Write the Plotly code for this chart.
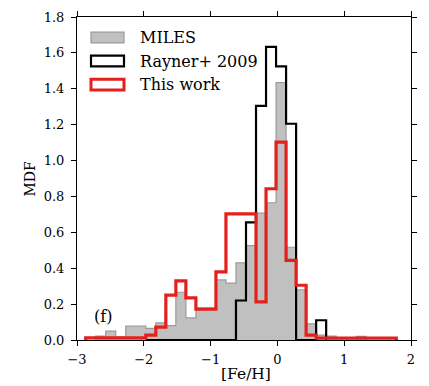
import plotly.graph_objects as go

# bin layout (shared histogram grid)
bin_width = 0.15

# MILES (grey filled histogram), bins starting at -2.72
miles_start = -2.72
miles_vals = [0.022, 0.049, 0.016, 0.078, 0.078, 0.065, 0.095, 0.080, 0.266, 0.123,
              0.178, 0.178, 0.335, 0.317, 0.43, 0.526, 0.707, 0.765, 1.435, 0.517,
              0.28, 0.09, 0.027, 0.022, 0.0, 0.0, 0.02]

# Rayner+ 2009 (black step), bins starting at -1.97
rayner_start = -1.97
rayner_vals = [0, 0, 0, 0, 0, 0, 0, 0, 0,
               0.22, 0.656, 1.305, 1.633, 1.525, 1.205, 0.0, 0.0, 0.11]

# This work (red step), bins starting at -2.87
thiswork_start = -2.87
thiswork_vals = [0.012, 0.012, 0.012, 0.012, 0.012, 0.012,
                 0.027, 0.072, 0.25, 0.33, 0.235, 0.172, 0.172, 0.38, 0.703, 0.703,
                 0.703, 0.212, 0.843, 1.103, 0.444, 0.305, 0.027,
                 0.01, 0.01, 0.01, 0.01, 0.01, 0.01, 0.01, 0.01]

x_ticks = [-3, -2, -1, 0, 1, 2]
y_ticks = [0.0, 0.2, 0.4, 0.6, 0.8, 1.0, 1.2, 1.4, 1.6, 1.8]
legend_labels = ["MILES", "Rayner+ 2009", "This work"]

GREY_FILL = "#c0c0c0"
GREY_EDGE = "#9a9a9a"
RED = "#e3201b"
FONT = "DejaVu Serif"


def step_xy(start, vals):
    edges = [round(start + bin_width * i, 4) for i in range(len(vals) + 1)]
    xs = [edges[0]] + edges
    ys = [0] + list(vals) + [0]
    return xs, ys


fig = go.Figure()

mx, my = step_xy(miles_start, miles_vals)
fig.add_trace(go.Scatter(x=mx, y=my, mode="lines", line=dict(shape="hv", color=GREY_EDGE, width=1.2),
                         fill="tozeroy", fillcolor=GREY_FILL, showlegend=False, hoverinfo="skip"))
rx, ry = step_xy(rayner_start, rayner_vals)
fig.add_trace(go.Scatter(x=rx, y=ry, mode="lines", line=dict(shape="hv", color="black", width=2.2),
                         showlegend=False, hoverinfo="skip"))
tx, ty = step_xy(thiswork_start, thiswork_vals)
fig.add_trace(go.Scatter(x=tx, y=ty, mode="lines", line=dict(shape="hv", color=RED, width=3.2),
                         showlegend=False, hoverinfo="skip"))

# manual legend (paper coords; plot area 77..411 x, 10..340 y in pixels)
L, R_, T, B = 77, 411, 10, 340
def px(x):
    return (x - L) / (R_ - L)
def py(y):
    return (B - y) / (B - T)

legend_style = [
    dict(fillcolor=GREY_FILL, line=dict(color=GREY_EDGE, width=1.2)),
    dict(fillcolor="white", line=dict(color="black", width=2.2)),
    dict(fillcolor="white", line=dict(color=RED, width=3.0)),
]
row_y = [31, 55, 79]
for lab, st, yc in zip(legend_labels, legend_style, row_y):
    fig.add_shape(type="rect", xref="paper", yref="paper",
                  x0=px(91), x1=px(124), y0=py(yc - 5.5), y1=py(yc + 5.5), layer="above", **st)
    fig.add_annotation(x=px(138), y=py(yc), xref="paper", yref="paper", text=lab, showarrow=False,
                       xanchor="left", yanchor="middle", font=dict(family=FONT, size=16, color="black"))

fig.add_annotation(x=-2.61, y=0.13, text="(f)", showarrow=False, xanchor="center", yanchor="middle",
                   font=dict(family=FONT, size=16, color="black"))

fig.add_annotation(x=px(29), y=0.5, xref="paper", yref="paper", text="MDF", textangle=-90,
                   showarrow=False, xanchor="center", yanchor="middle",
                   font=dict(family=FONT, size=14, color="black"))
fig.add_annotation(x=px(246), y=py(375), xref="paper", yref="paper", text="[Fe/H]",
                   showarrow=False, xanchor="center", yanchor="middle",
                   font=dict(family=FONT, size=15.5, color="black"))

axis_common = dict(showline=True, linecolor="black", linewidth=1, mirror="allticks", ticks="outside",
                   ticklen=5, tickwidth=1, tickcolor="black", showgrid=False, zeroline=False,
                   tickfont=dict(family=FONT, size=13, color="black"))
fig.update_xaxes(range=[-3, 2], tickvals=x_ticks, ticktext=["\u22123", "\u22122", "\u22121", "0", "1", "2"],
                 ticklabelstandoff=2, **axis_common)
fig.update_yaxes(range=[0, 1.8], tickvals=y_ticks, ticktext=[f"{v:.1f}" for v in y_ticks],
                 ticklabelstandoff=4, **axis_common)

fig.update_layout(width=429, height=386, margin=dict(l=L, r=429 - R_, t=T, b=386 - B),
                  plot_bgcolor="white", paper_bgcolor="white", showlegend=False)

fig.write_html("out.html")
